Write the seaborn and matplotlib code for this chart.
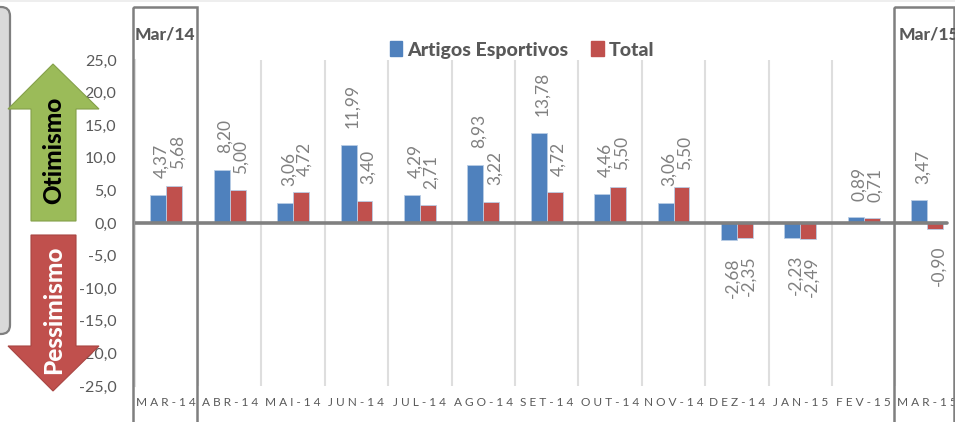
import matplotlib
matplotlib.use("Agg")
import matplotlib.pyplot as plt
from matplotlib.patches import FancyBboxPatch, Patch, Polygon, Rectangle
import pandas as pd
import seaborn as sns

meses = ["MAR-14", "ABR-14", "MAI-14", "JUN-14", "JUL-14", "AGO-14", "SET-14",
         "OUT-14", "NOV-14", "DEZ-14", "JAN-15", "FEV-15", "MAR-15"]
artigos = [4.37, 8.20, 3.06, 11.99, 4.29, 8.93, 13.78, 4.46, 3.06, -2.68, -2.23, 0.89, 3.47]
total = [5.68, 5.00, 4.72, 3.40, 2.71, 3.22, 4.72, 5.50, 5.50, -2.35, -2.49, 0.71, -0.90]
series = ["Artigos Esportivos", "Total"]
cores = ["#4F81BD", "#C0504D"]
yticks = [25, 20, 15, 10, 5, 0, -5, -10, -15, -20, -25]

sns.set_theme(style="white")
plt.rcParams["font.family"] = ["Lato", "DejaVu Sans"]

W, H = 955, 422
fig = plt.figure(figsize=(W / 100, H / 100), dpi=100)

# eixo passa um pouco da borda direita, como no original
left, right, top, bottom = 134.6, 958.8, 60, 386
ax = fig.add_axes([left / W, 1 - bottom / H, (right - left) / W, (bottom - top) / H])

df = pd.DataFrame({
    "mes": meses * 2,
    "valor": artigos + total,
    "serie": [series[0]] * len(meses) + [series[1]] * len(meses),
})
sns.barplot(data=df, x="mes", y="valor", hue="serie", palette=cores, width=0.5, gap=0,
            saturation=1, edgecolor="#B9CDE5", linewidth=0.6, legend=False, ax=ax)

for cont in ax.containers:
    rotulos = ax.bar_label(cont, labels=[f"{v:.2f}".replace(".", ",") for v in cont.datavalues],
                           rotation=90, padding=12, fontsize=12.5, color="#808080")
    for t in rotulos:
        t.xyann = (2.5, t.xyann[1])

ax.set_ylim(-25, 25)
ax.set_xlim(-0.5, 12.5)
ax.set_yticks(yticks)
ax.set_yticklabels([f"{v:.1f}".replace(".", ",") for v in yticks], fontsize=11.5, color="#595959")
ax.set_xticks(range(len(meses)))
ax.set_xticklabels([" ".join(m) for m in meses], fontsize=8.6, color="#595959")
ax.set_xticks([i + 0.5 for i in range(len(meses))], minor=True)
ax.tick_params(axis="x", which="both", length=0, pad=8)
ax.tick_params(axis="y", length=2, color="#E0E0E0", pad=11)
ax.set_xlabel("")
ax.set_ylabel("")
ax.grid(axis="x", which="minor", color="#DEDEDE", lw=1.5)
ax.set_axisbelow(True)
sns.despine(ax=ax, top=True, right=True, bottom=True)
ax.spines["left"].set_color("#DEDEDE")
ax.spines["left"].set_linewidth(1.5)
ax.axhline(0, xmin=0, xmax=(947 - left) / (right - left), color="#808080", lw=2.6, zorder=5)

fig.legend(handles=[Patch(color=c, label=s) for c, s in zip(cores, series)],
           loc="center", bbox_to_anchor=(522 / W, 1 - 50 / H), ncol=2, frameon=False,
           prop={"weight": "black", "size": 14}, labelcolor="#595959",
           handlelength=0.65, handleheight=0.8, handletextpad=0.25, columnspacing=1.2)

# camada por cima em pixels: caixas, setas e titulos
ov = fig.add_axes([0, 0, 1, 1], zorder=10)
ov.set_xlim(0, W)
ov.set_ylim(H, 0)
ov.axis("off")
ov.patch.set_alpha(0)

ov.add_patch(Rectangle((0, 0), W, 1.5, color="#EEEEEE", lw=0))
ov.add_patch(FancyBboxPatch((-30, 7), 40, 327, boxstyle="round,pad=0,rounding_size=9",
                            fc="#D9D9D9", ec="#7F7F7F", lw=1.6))
ov.add_patch(Rectangle((133, 7), 64, 430, fill=False, ec="#7F7F7F", lw=1.8))
ov.add_patch(Rectangle((894, 7), 60, 430, fill=False, ec="#7F7F7F", lw=1.8))
ov.text(165, 35, "Mar/14", ha="center", va="center", fontsize=12.5, weight="black", color="#595959")
ov.text(899, 35, "Mar/15", ha="left", va="center", fontsize=12.5, weight="black", color="#595959")

ov.add_patch(Polygon([(53, 64), (99, 109), (76, 109), (76, 221), (31, 221), (31, 109), (8, 109)],
                     fc="#9BBB59", ec="#84A04A", lw=0.8))
ov.add_patch(Polygon([(31, 235), (76, 235), (76, 346), (99, 346), (53, 391), (8, 346), (31, 346)],
                     fc="#C0504D", ec="#A84542", lw=0.8))
ov.text(54, 150, "Otimismo", rotation=90, ha="center", va="center", fontsize=17.5, weight="black", color="black")
ov.text(54, 310, "Pessimismo", rotation=90, ha="center", va="center", fontsize=17.5, weight="black", color="white")

fig.savefig("out.png", dpi=100)
